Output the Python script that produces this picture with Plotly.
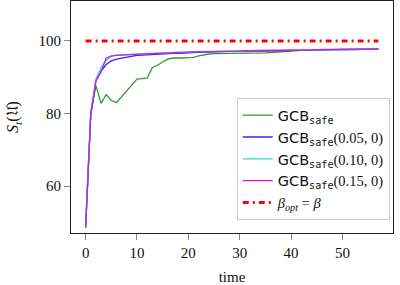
import plotly.graph_objects as go

time = list(range(58))

gcb_safe = [48.8, 80.0, 87.7, 82.8, 85.2, 83.6, 83.0, 84.6, 86.2, 87.8,
            89.5, 89.6, 89.8, 92.7, 93.3, 94.2, 95.0, 95.3, 95.2, 95.3,
            95.4, 95.5, 95.9, 96.2, 96.4, 96.5, 96.5, 96.5, 96.6, 96.6,
            96.6, 96.7, 96.6, 96.5, 96.6, 96.7, 96.8, 96.9, 97.0, 97.2,
            97.3, 97.4, 97.5, 97.6, 97.6, 97.6, 97.6, 97.6, 97.6, 97.6,
            97.6, 97.7, 97.7, 97.7, 97.7, 97.7, 97.8, 97.8]
gcb_005 = [48.8, 79.5, 89.0, 91.6, 93.5, 94.5, 95.0, 95.3, 95.6, 95.8,
           96.0, 96.1, 96.2, 96.3, 96.4, 96.4, 96.5, 96.6, 96.6, 96.7,
           96.7, 96.8, 96.8, 96.9, 96.9, 97.0, 97.0, 97.0, 97.1, 97.1,
           97.1, 97.1, 97.2, 97.2, 97.2, 97.2, 97.3, 97.3, 97.3, 97.3,
           97.4, 97.4, 97.4, 97.4, 97.5, 97.5, 97.5, 97.5, 97.5, 97.6,
           97.6, 97.6, 97.6, 97.6, 97.7, 97.7, 97.7, 97.7]
gcb_010 = [48.8, 80.5, 89.5, 92.6, 94.6, 95.9, 96.1, 96.2, 96.3, 96.4,
           96.5, 96.5, 96.6, 96.6, 96.7, 96.7, 96.8, 96.8, 96.9, 96.9,
           97.0, 97.0, 97.0, 97.1, 97.1, 97.1, 97.2, 97.2, 97.2, 97.2,
           97.3, 97.3, 97.3, 97.3, 97.4, 97.4, 97.4, 97.4, 97.4, 97.5,
           97.5, 97.5, 97.5, 97.5, 97.6, 97.6, 97.6, 97.6, 97.6, 97.6,
           97.7, 97.7, 97.7, 97.7, 97.7, 97.7, 97.8, 97.8]
gcb_015 = [48.5, 80.0, 89.0, 91.5, 95.3, 95.8, 96.0, 96.1, 96.2, 96.3,
           96.4, 96.4, 96.5, 96.5, 96.6, 96.6, 96.7, 96.8, 96.8, 96.9,
           96.9, 97.0, 97.0, 97.0, 97.1, 97.1, 97.1, 97.2, 97.2, 97.2,
           97.2, 97.3, 97.3, 97.3, 97.3, 97.3, 97.4, 97.4, 97.4, 97.4,
           97.5, 97.5, 97.5, 97.5, 97.5, 97.6, 97.6, 97.6, 97.6, 97.6,
           97.6, 97.7, 97.7, 97.7, 97.7, 97.7, 97.7, 97.8]
beta_opt = [100.0] * 58

x_ticks = [0, 10, 20, 30, 40, 50]
y_ticks = [60, 80, 100]

SERIF = "Liberation Serif, DejaVu Serif, serif"

def gcb(suffix=""):
    return ("<span style='font-family:DejaVu Sans'>GCB</span>"
            "<sub><span style='font-family:DejaVu Sans Mono'>safe</span></sub>"
            + suffix)

series = [
    (gcb_safe, gcb(), "#2e9a2e"),
    (gcb_005, gcb("(0.05, 0)"), "#2b2bff"),
    (gcb_010, gcb("(0.10, 0)"), "#33d6d6"),
    (gcb_015, gcb("(0.15, 0)"), "#d61ad6"),
]

fig = go.Figure()
for vals, name, col in series:
    fig.add_trace(go.Scatter(x=time, y=vals, mode="lines", name=name,
                             line=dict(color=col, width=1.3)))
fig.add_trace(go.Scatter(x=time, y=beta_opt, mode="lines",
                         name="<i>β<sub>opt</sub></i> = <i>β</i>",
                         line=dict(color="#ff0000", width=3,
                                   dash="6px,4px,2px,4px")))

fig.update_layout(
    width=400, height=285,
    margin=dict(l=71, r=7, t=1, b=52),
    paper_bgcolor="white", plot_bgcolor="white",
    font=dict(family=SERIF, size=15, color="#111"),
    showlegend=True,
    legend=dict(x=0.99, y=0.055, xanchor="right", yanchor="bottom",
                bgcolor="white", bordercolor="#cccccc", borderwidth=1,
                font=dict(family=SERIF, size=14.5), tracegroupgap=0,
                itemwidth=30),
    xaxis=dict(range=[-2.85, 59.85], tickvals=x_ticks, automargin=False,
               showgrid=False, zeroline=False, showline=True,
               linecolor="#222", linewidth=1, mirror=True,
               ticks="outside", ticklen=6, tickcolor="#888",
               title=dict(text="time", font=dict(size=15))),
    yaxis=dict(range=[47.1, 111.0], tickvals=y_ticks, automargin=False,
               showgrid=False, zeroline=False, showline=True,
               linecolor="#222", linewidth=1, mirror=True,
               ticks="outside", ticklen=6, tickcolor="#888",
               title=dict(text="<i>S<sub>t</sub></i>(𝔘)", font=dict(size=16))),
)

fig.write_html("out.html", config={"displayModeBar": False},
               post_script="document.body.style.margin='0';")
